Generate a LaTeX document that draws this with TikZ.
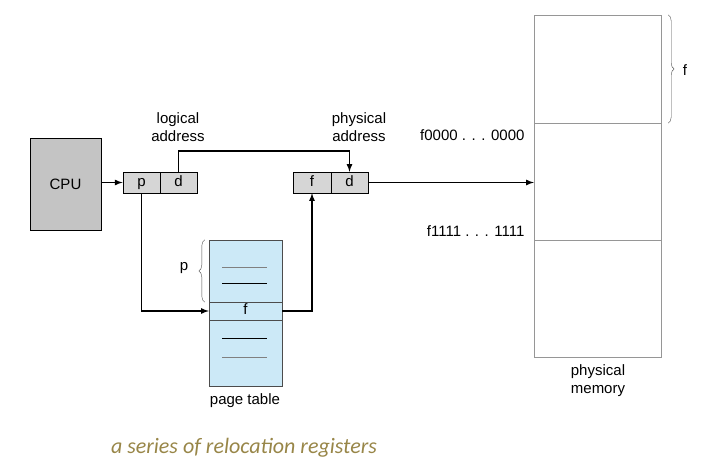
\documentclass[tikz,border=0pt]{standalone}
\usepackage{fontspec}
\setmainfont{Liberation Sans}
\newfontfamily\capfont{Carlito}
\usepackage{tikz}
\usetikzlibrary{arrows, positioning, decorations.pathreplacing}
\definecolor{cpugray}{RGB}{196,196,196}
\definecolor{reggray}{RGB}{214,214,214}
\definecolor{ptblue}{RGB}{204,233,247}
\definecolor{memline}{RGB}{150,150,150}
\definecolor{capgold}{RGB}{152,134,72}
\begin{document}
\begin{tikzpicture}[x=1pt, y=-1pt, font=\fontsize{15}{18}\selectfont,
  reg/.style = {draw, fill=reggray, minimum width=37.5pt, minimum height=21pt, inner sep=0pt, text height=11pt, text depth=2pt},
  ptab/.style = {draw=black!70, fill=ptblue, minimum width=73pt, inner sep=0pt},
  mem/.style = {draw=memline, minimum width=127pt, inner sep=0pt},
  conn/.style = {-latex, line width=1.6pt},
  brc/.style = {draw=black!70, decorate, decoration={brace, amplitude=6pt}},
  entry/.style = {line width=0.7pt}]
\useasboundingbox (0,0) rectangle (705,470);
\node[draw, fill=cpugray, minimum width=71pt, minimum height=92pt](cpu) at (65.5,184){CPU};
\node[reg](lp) at (141.5,182.5){p};
\node[reg](ld) at (178.5,182.5){d};
\node[reg](pf) at (312,182.5){f};
\node[reg](pd) at (349.5,182.5){d};
\node[ptab, minimum height=62pt](pttop) at (245.5,271){};
\node[ptab, minimum height=18pt, text height=10pt, text depth=2pt](ptf) at (245.5,311){f};
\node[ptab, minimum height=66pt](ptbot) at (245.5,353){};
\node[mem, minimum height=108pt](mem1) at (597.5,69){};
\node[mem, minimum height=117pt](mem2) at (597.5,181.5){};
\node[mem, minimum height=117pt](mem3) at (597.5,298.5){};
\node[align=center](la) at (178,127){logical\\address};
\node[align=center](pa) at (359,127){physical\\address};
\node(pbl) at (184,268){p};
\node(ptl) at (245,401){page table};
\node(fbl) at (685,70){f};
\node[anchor=east](lo) at (528,135){f0000 . . . 0000};
\node[anchor=east](hi) at (528,231){f1111 . . . 1111};
\node[align=center](pml) at (598,381){physical\\memory};
\node[text=capgold, font=\capfont\itshape\fontsize{22}{26}\selectfont](cap) at (244,448){a series of relocation registers};
\coordinate (bend) at (0,151);
\draw[draw=black!50, entry] (222,267) -- (267,267);
\draw[entry] (222,283) -- (267,283);
\draw[entry] (222,338) -- (267,338);
\draw[draw=black!50, entry] (222,357) -- (267,357);
\draw[conn] (cpu.east |- lp) -- (lp.west);
\draw[conn] (ld.north) -- (ld.north |- bend) -| (pd.north);
\draw[conn] (lp.south) |- (ptf.west);
\draw[conn] (ptf.east) -| (pf.south);
\draw[conn] (pd.east) -- (mem2.west |- pd);
\draw[brc] (pttop.south west) ++(-4,0) -- ([xshift=-4pt]pttop.north west);
\draw[brc] ([xshift=7pt]mem1.north east) -- ([xshift=7pt]mem1.south east);
\end{tikzpicture}
\end{document}
